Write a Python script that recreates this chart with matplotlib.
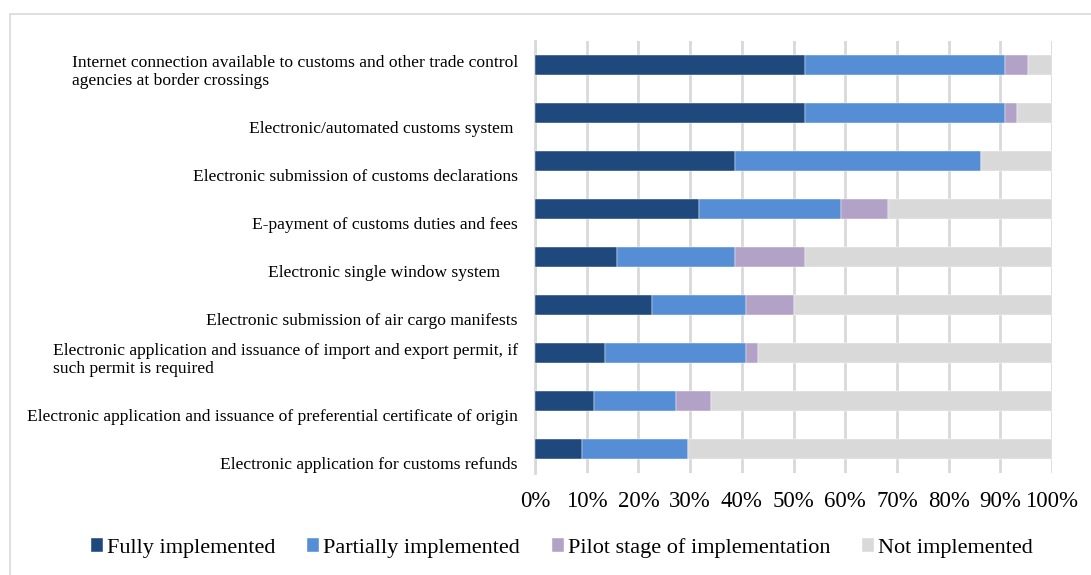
import matplotlib.pyplot as plt
from matplotlib.patches import Rectangle
from matplotlib.ticker import PercentFormatter
from matplotlib.transforms import blended_transform_factory, ScaledTranslation

plt.rcParams['font.family'] = ['Liberation Serif', 'DejaVu Serif']

# measures, top to bottom
measures = [
    'Internet connection available to customs and other trade control\nagencies at border crossings',
    'Electronic/automated customs system ',
    'Electronic submission of customs declarations',
    'E-payment of customs duties and fees',
    'Electronic single window system    ',
    'Electronic submission of air cargo manifests',
    'Electronic application and issuance of import and export permit, if\nsuch permit is required',
    'Electronic application and issuance of preferential certificate of origin',
    'Electronic application for customs refunds',
]

# share of countries (%)
fully = [52.3, 52.3, 38.6, 31.8, 15.9, 22.7, 13.6, 11.4, 9.1]
partially = [38.6, 38.6, 47.7, 27.3, 22.7, 18.2, 27.3, 15.9, 20.5]
pilot = [4.5, 2.3, 0.0, 9.1, 13.6, 9.1, 2.3, 6.8, 0.0]
not_impl = [4.6, 6.8, 13.7, 31.8, 47.8, 50.0, 56.8, 65.9, 70.4]

series = [
    ('Fully implemented', fully, '#1F497D'),
    ('Partially implemented', partially, '#558ED5'),
    ('Pilot stage of implementation', pilot, '#B3A2C7'),
    ('Not implemented', not_impl, '#D9D9D9'),
]

fig = plt.figure(figsize=(10.91, 5.75), dpi=100)
ax = fig.add_axes([535 / 1091, 1 - 473 / 575, 517 / 1091, 432 / 575])

ypos = list(range(len(measures)))
left = [0.0] * len(measures)
for name, vals, col in series:
    ax.barh(ypos, vals, left=left, height=0.41, color=col, label=name,
            edgecolor='white', linewidth=0.3, zorder=3)
    left = [a + b for a, b in zip(left, vals)]

ax.set_xlim(0, 100)
ax.set_ylim(len(measures) - 0.5, -0.5)
ax.set_xticks(range(0, 101, 10))
ax.xaxis.set_major_formatter(PercentFormatter(decimals=0))
ax.set_yticks([])
ax.tick_params(axis='x', length=0, labelsize=16.5, pad=13)
ax.grid(axis='x', color='#D9D9D9', linewidth=2, zorder=0)
for s in ['top', 'right', 'bottom']:
    ax.spines[s].set_visible(False)
ax.spines['left'].set_color('#D9D9D9')
ax.spines['left'].set_linewidth(2)

# category labels sit a little below their bars, last line aligned to the bar
trans = blended_transform_factory(ax.transAxes, ax.transData)
shift = ScaledTranslation(-17 / 100, -24 / 100, fig.dpi_scale_trans)
for y, lab in zip(ypos, measures):
    ax.text(0, y, lab, transform=trans + shift, ha='right', va='bottom',
            multialignment='left', fontsize=12.6, linespacing=1.2)

fig.legend(loc='center', bbox_to_anchor=(562 / 1091, 1 - 548 / 575), ncol=4,
           frameon=False, fontsize=16, handlelength=0.55, handleheight=0.55,
           handletextpad=0.18, columnspacing=1.42)

# outer chart frame
fig.patches.append(Rectangle((10 / 1091, -0.05), 1.2, 1.05 - 14 / 575,
                             transform=fig.transFigure, fill=False,
                             edgecolor='#D9D9D9', linewidth=1.2))

fig.savefig('out.png', dpi=100)
